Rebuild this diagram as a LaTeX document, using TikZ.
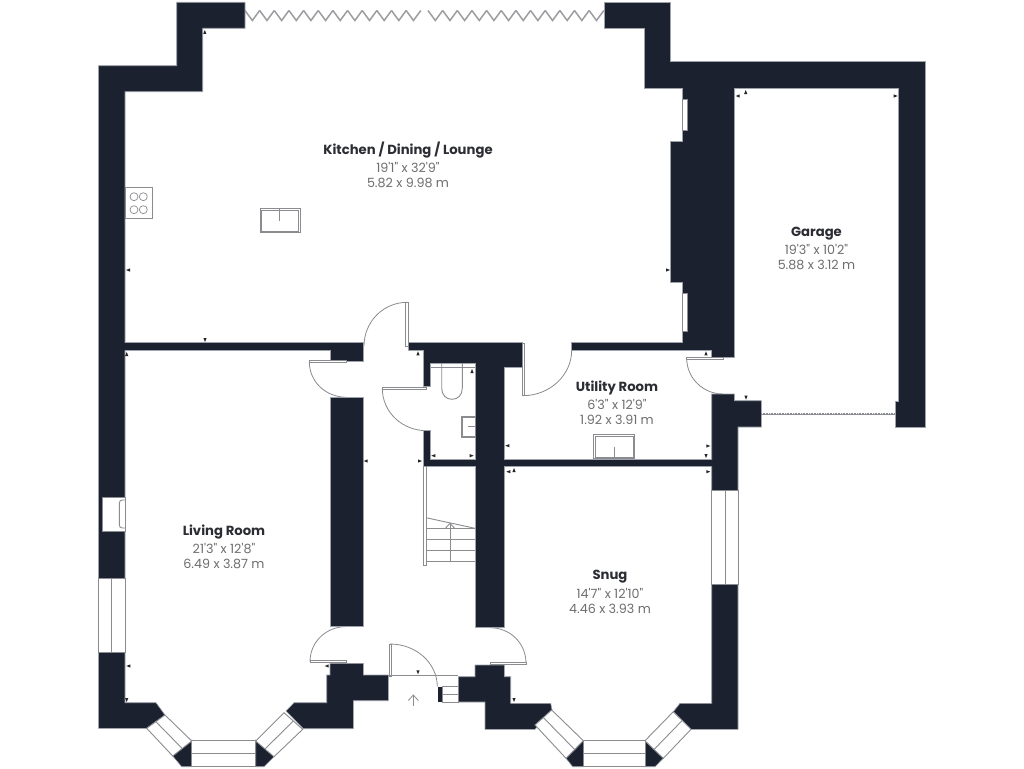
\documentclass[tikz,border=0pt]{standalone}
\usepackage{fontspec}
\newfontfamily\titlefont{Poppins}
\newfontfamily\dimfont{Poppins}
\definecolor{wallc}{HTML}{1C2130}
\definecolor{edgec}{HTML}{9EA2AA}
\definecolor{linec}{HTML}{8A8C90}
\definecolor{dimtxt}{HTML}{6E6E6E}
\definecolor{titletxt}{HTML}{2B2D33}
\tikzset{
  wall/.style={fill=wallc,draw=edgec,line width=0.6pt,line join=miter},
  glazing/.style={fill=white,draw=linec,line width=0.9pt},
  fixture/.style={draw=linec,line width=0.9pt},
  doorleaf/.style={fill=white,draw=linec,line width=0.9pt},
  swing/.style={draw=linec,line width=0.8pt},
  roomlabel/.style={align=center,inner sep=0pt,text=dimtxt,font=\dimfont\fontsize{12.7}{15}\selectfont},
  tick/.style={fill=black!85,draw=none}
}
\newcommand{\tickL}[2]{\fill[tick] (#1-2,#2)--(#1+2,#2-1.6)--(#1+2,#2+1.6)--cycle;}
\newcommand{\tickR}[2]{\fill[tick] (#1+2,#2)--(#1-2,#2-1.6)--(#1-2,#2+1.6)--cycle;}
\newcommand{\tickU}[2]{\fill[tick] (#1,#2-2)--(#1-1.6,#2+2)--(#1+1.6,#2+2)--cycle;}
\newcommand{\tickD}[2]{\fill[tick] (#1,#2+2)--(#1-1.6,#2-2)--(#1+1.6,#2-2)--cycle;}
\newcommand{\rlabel}[5]{\node[roomlabel] (#1) at (#2,#3) {{\titlefont\bfseries\color{titletxt}\fontsize{13.2}{15}\selectfont #4}\\[3.5pt]#5};}
\begin{document}
\begin{tikzpicture}[x=1pt,y=-1pt]
\useasboundingbox (0,0) rectangle (1024,768);
\fill[white] (0,0) rectangle (1024,768);

% bi-fold doors
\foreach \sx/\n in {245/12,428/12}{
  \foreach \i in {1,...,\n}{
    \draw[line width=1.5pt,draw=linec!85,line join=miter] (\sx+\i*14.65-14.65,10.5)--(\sx+\i*14.65-7.33,20.5)--(\sx+\i*14.65,10.5);
  }
}

% garage door
\draw[line width=0.8pt,draw=linec] (761,414.8)--(895,414.8);
\draw[line width=0.5pt,draw=linec,dash pattern=on 1pt off 0.6pt] (761,413.2)--(895,413.2);

% swings
\draw[swing] (407.3,302.3) .. controls (383,302.3) and (364,322) .. (364,346);
\draw[swing] (309.3,361.7) .. controls (309.3,382) and (326,397.3) .. (346.7,397.3);
\draw[swing] (382.3,388.3) .. controls (382.3,412) and (402,430.7) .. (426.7,430.7);
\draw[swing] (522.7,395.7) .. controls (550,395.7) and (571.7,375) .. (571.7,350);
\draw[swing] (686.7,358.3) .. controls (686.7,378) and (703,394) .. (723,394);
\draw[swing] (310,661.7) .. controls (310,642) and (326,626.5) .. (346.7,626.5);
\draw[swing] (526,663.3) .. controls (526,643) and (510,627.7) .. (490,627.7);
\draw[swing] (390,644) .. controls (416,644) and (437.3,663) .. (437.3,686.7);

% walls
\draw[wall] (245,2.3)--(176.7,2.3)--(176.7,65.7)--(98.5,65.7)--(98.5,728.3)--(146.7,728.3)--(165,715)--(156,702.7)--(125,702.7)--(125,91.7)--(202.7,91.7)--(202.7,28.3)--(245,28.3)--cycle;
\draw[wall] (125,342.3)--(363.3,342.3)--(363.3,361)--(330,361)--(330,350)--(125,350)--cycle;
\draw[wall] (330,397.3) rectangle (363.3,626);
\draw[wall] (423.3,430.7)--(430.7,430.7)--(430.7,459.2)--(711.7,459.2)--(711.7,466.3)--(423.3,466.3)--cycle;
\draw[wall] (408.3,342.3)--(522,342.3)--(522,367.3)--(504.3,367.3)--(504.3,627.7)--(475,627.7)--(475,363.3)--(430.7,363.3)--(430.7,386.7)--(423.3,386.7)--(423.3,350)--(408.3,350)--cycle;
\fill[wallc] (474.5,459.5) rectangle (505,466);
\draw[wall] (604,2.3)--(670,2.3)--(670,61.7)--(925,61.7)--(925,427.3)--(895,427.3)--(895,401.7)--(898.3,401.7)--(898.3,88)--(734.3,88)--(734.3,357.3)--(711.7,357.3)--(711.7,350)--(571.7,350)--(571.7,342.7)--(682.7,342.7)--(682.7,282.7)--(670,282.7)--(670,141.3)--(682.3,141.3)--(682.3,88)--(644,88)--(644,28.3)--(604,28.3)--cycle;
\draw[wall] (711.7,394)--(734.3,394)--(734.3,400.7)--(761.3,400.7)--(761.3,427)--(738,427)--(738,729.3)--(691,729.3)--(673.3,711.7)--(680,703.3)--(711.7,703.3)--cycle;
\fill[wallc] (711,459.5) rectangle (713,466);
\draw[wall] (330,663.3)--(363.3,663.3)--(363.3,675)--(388.3,675)--(388.3,700.7)--(353.3,700.7)--(353.3,728.7)--(303.3,728.7)--(286,711)--(294,702.7)--(326.7,702.7)--(326.7,675)--(330,675)--cycle;
\draw[wall] (475,665)--(504.3,665)--(504.3,676.7)--(510.7,676.7)--(510.7,703.3)--(550.7,703.3)--(552,710)--(535,729.3)--(485,729.3)--(485,702)--(458.3,702)--(458.3,676.7)--(475,676.7)--cycle;
\fill[wallc] (124,342.7) rectangle (126,349.7);

% wedges of the bays
\draw[wall] (191.7,740)--(191.7,766.7)--(181.7,766.7)--(172.7,756)--cycle;
\draw[wall] (255.7,740)--(255.7,766.7)--(264,766.7)--(274,756.7)--cycle;
\draw[wall] (583.3,740.7)--(583.3,766.7)--(572.7,766.7)--(566,758.3)--cycle;
\draw[wall] (645,740.7)--(645,766.7)--(655,766.7)--(663.3,758.3)--cycle;

% windows
\draw[glazing] (98.5,578.3) rectangle (125,652.3);
\draw[fixture] (111.7,578.3)--(111.7,652.3);
\draw[glazing] (711.7,490) rectangle (738,584.3);
\draw[fixture] (725,490)--(725,584.3);
\draw[glazing] (191.7,740) rectangle (255.7,766.7);
\draw[fixture] (191.7,753.4)--(255.7,753.4);
\draw[glazing] (583.3,740.7) rectangle (645,766.7);
\draw[fixture] (583.3,753.7)--(645,753.7);
\draw[glazing] (165,715)--(191.7,741)--(172.7,756)--(146.7,728.3)--cycle;
\draw[fixture] (155.8,721.6)--(182.2,748.5);
\draw[glazing] (255.7,741)--(284,712.7)--(302.7,729.3)--(274,756.7)--cycle;
\draw[fixture] (265,749)--(293.3,721);
\draw[glazing] (551.7,710)--(583.3,740.7)--(566,758.3)--(535,725)--cycle;
\draw[fixture] (543.3,717.5)--(574.7,749.5);
\draw[glazing] (645,740.7)--(673.3,711.7)--(691,729.3)--(663.3,758.3)--cycle;
\draw[fixture] (654,749.5)--(682.2,720.5);

% chimney breast niches
\draw[glazing] (102.7,497.3) rectangle (125,531.7);
\draw[fixture,rounded corners=3pt] (125,500)--(119.3,500)--(119.3,528)--(125,528);
\draw[glazing] (682.3,99.3) rectangle (687.5,130.3);
\draw[glazing] (682.7,293.3) rectangle (687.3,331.7);

% door leaves
\draw[doorleaf] (405.8,302.3) rectangle (408,346.7);
\draw[doorleaf] (309.3,360.8) rectangle (346.7,362.8);
\draw[doorleaf] (382.3,387.6) rectangle (426.7,389.6);
\draw[doorleaf] (522.4,343) rectangle (524.6,395.7);
\draw[doorleaf] (686.7,357.4) rectangle (723,359.6);
\draw[doorleaf] (310,660.8) rectangle (346.7,662.8);
\draw[doorleaf] (490,662.3) rectangle (526,664.4);
\draw[doorleaf] (389,644) rectangle (391.3,676);

% threshold and porch step
\draw[fixture] (388.3,675.7)--(458.3,675.7);
\draw[fixture,fill=white] (442,686.7) rectangle (458.3,702);
\draw[fixture] (442,694.3)--(458.3,694.3);
\fill[wallc] (438.3,686.7) rectangle (442,702);
\draw[line width=0.8pt,draw=linec] (413.3,706)--(413.3,695.3);
\draw[line width=0.8pt,draw=linec] (408.3,700.5)--(413.3,695)--(418.3,700.5);

% stairs
\draw[fixture] (423.5,466.3)--(423.5,565)--(426,565)--(426,466.3);
\draw[fixture] (426,517.7)--(475,528.3);
\foreach \ty in {528.7,539.3,550,561}{\draw[fixture] (426,\ty)--(475,\ty);}
\draw[fixture] (450,523.4)--(450,561);
\draw[fixture] (445,528.7)--(450,523.4)--(455,528.7);

% cloakroom fittings
\draw[fixture] (430.7,367.3)--(475,367.3);
\draw[fixture] (441.7,363.3)--(441.7,388) .. controls (441.7,395) and (446,399.3) .. (452,399.3) .. controls (458,399.3) and (462.3,395) .. (462.3,388)--(462.3,363.3);
\draw[fixture] (461,416) rectangle (475,437.7);
\draw[fixture,line width=0.6pt] (462.5,417.5) rectangle (475,436.2);
\draw[fixture,line width=0.6pt] (468,426.7)--(475,426.7);

% kitchen sink and hob, utility sink
\draw[fixture] (260,208.3) rectangle (300,232.7);
\draw[fixture,line width=0.6pt] (261.5,209.8) rectangle (298.5,231.2);
\draw[fixture,line width=0.7pt] (279.7,209)--(279.7,220.5);
\draw[fixture] (593.7,434.3) rectangle (634.3,458.3);
\draw[fixture,line width=0.6pt] (595.2,435.8) rectangle (632.8,456.8);
\draw[fixture,line width=0.7pt] (614,446.5)--(614,458);
\draw[line width=0.7pt,draw=linec] (125,187.3) rectangle (152.3,218.3);
\foreach \cx/\cy in {134/196.7,143.3/196.7,134/209.7,143.3/209.7}{\draw[line width=0.7pt,draw=linec] (\cx,\cy) circle[radius=4];}

% dimension ticks
\tickU{204.8}{32}\tickL{128}{270}\tickR{668}{270}\tickD{205}{340}\tickU{126.7}{354}
\tickU{745.7}{92}\tickL{737.7}{96}\tickR{895.7}{96}
\tickL{128.3}{666}\tickD{126.7}{700}
\tickU{418}{353.3}\tickU{472}{371}\tickL{433.3}{455.7}\tickR{471.7}{455.7}
\tickL{365.7}{461}\tickR{420}{461}\tickL{507.3}{445.7}
\tickR{708.3}{446}\tickD{706}{456}\tickL{508.3}{471.7}\tickU{514}{470}\tickR{708.3}{471.7}
\tickU{706}{353.3}\tickD{746}{397.7}
\tickL{326.7}{666}\tickD{418}{672.3}\tickD{514}{700}

% labels
\rlabel{kitchen}{408}{165}{Kitchen / Dining / Lounge}{19'1" x 32'9"\\5.82 x 9.98 m}
\rlabel{garage}{816.5}{248.5}{Garage}{19'3" x 10'2"\\5.88 x 3.12 m}
\rlabel{utility}{617}{402.5}{Utility Room}{6'3" x 12'9"\\1.92 x 3.91 m}
\rlabel{living}{224}{547}{Living Room}{21'3" x 12'8"\\6.49 x 3.87 m}
\rlabel{snug}{610}{592}{Snug}{14'7" x 12'10"\\4.46 x 3.93 m}
\end{tikzpicture}
\end{document}
